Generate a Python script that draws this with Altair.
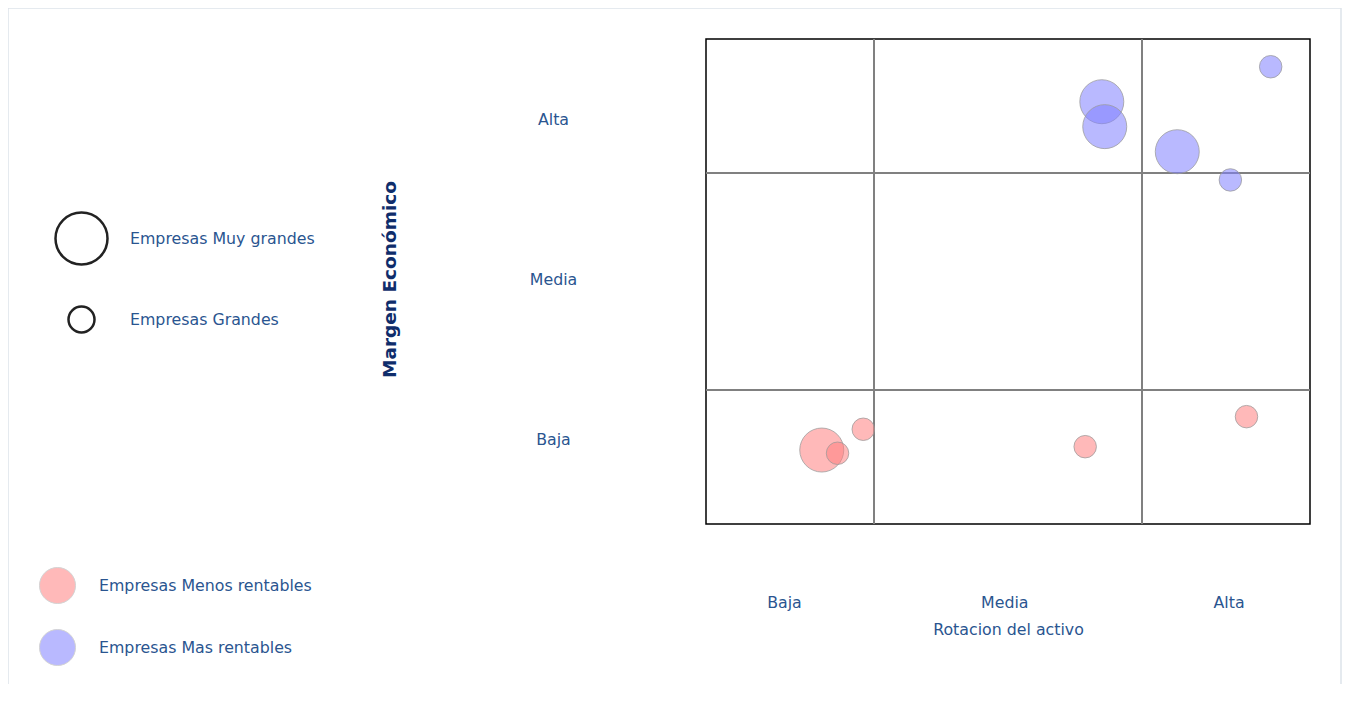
import altair as alt
import pandas as pd

# ---- data ----
# position in "cell units": 0-1 = Baja, 1-2 = Media, 2-3 = Alta
rot_x = [2.766, 1.850, 1.861, 2.210, 2.526, 0.689, 0.783, 0.936, 1.788, 2.622]
marg_y = [2.793, 2.532, 2.346, 2.159, 1.968, 0.552, 0.528, 0.707, 0.577, 0.801]
grupo = ["Empresas Mas rentables"] * 5 + ["Empresas Menos rentables"] * 5
tamano = ["Empresas Grandes", "Empresas Muy grandes", "Empresas Muy grandes",
          "Empresas Muy grandes", "Empresas Grandes",
          "Empresas Muy grandes", "Empresas Grandes", "Empresas Grandes",
          "Empresas Grandes", "Empresas Grandes"]

grupo_dom = ["Empresas Menos rentables", "Empresas Mas rentables"]
grupo_col = ["#ff8080", "#8080ff"]
tamano_dom = ["Empresas Muy grandes", "Empresas Grandes"]

x_bounds = [1, 2]
y_bounds = [1, 2]
x_tick_vals = [0.464, 1.486, 2.515]
x_tick_labels = ["Baja", "Media", "Alta"]
y_tick_vals = [0.634, 1.507, 2.396]
y_tick_labels = ["Baja", "Media", "Alta"]

df = pd.DataFrame({"x": rot_x, "y": marg_y, "grupo": grupo, "tamano": tamano})
dfx = pd.DataFrame({"v": x_bounds})
dfy = pd.DataFrame({"v": y_bounds})

FONT = "DejaVu Sans"
TXT = "#2a5590"
FS = 15.8

xscale = alt.Scale(domain=[0, 1, 2, 3], range=[0, 168, 436, 604], nice=False, zero=False)
yscale = alt.Scale(domain=[0, 1, 2, 3], range=[485, 351, 134, 0], nice=False, zero=False)

x_lab_expr = str(x_tick_labels) + "[round(datum.index*2)]"
y_lab_expr = str(y_tick_labels) + "[round(datum.index*2)]"

xenc = alt.X("x:Q", scale=xscale,
             axis=alt.Axis(values=x_tick_vals, labelExpr=x_lab_expr, ticks=False, tickSize=0,
                           domain=False, grid=False, labelPadding=78, labelBaseline="middle",
                           labelFont=FONT, labelFontSize=FS, labelColor=TXT,
                           title="Rotacion del activo", titleFont=FONT, titleFontSize=FS,
                           titleFontWeight="normal", titleColor=TXT, titleY=105,
                           titleBaseline="middle"))
yenc = alt.Y("y:Q", scale=yscale,
             axis=alt.Axis(values=y_tick_vals, labelExpr=y_lab_expr, ticks=False, tickSize=0,
                           domain=False, grid=False, labelPadding=153, labelAlign="center",
                           labelBaseline="middle",
                           labelFont=FONT, labelFontSize=FS, labelColor=TXT,
                           title="Margen Económico", titleFont=FONT, titleFontSize=18.5,
                           titleFontWeight="bold", titleColor="#0f2d6b", titleX=-317,
                           titleY=240, titleAngle=270, titleBaseline="middle",
                           titleAlign="center"))

frame = alt.Chart(pd.DataFrame({"a": [0]})).mark_rect(
    fill=None, stroke="#dde3ea", strokeWidth=1.5, clip=False
).encode(x=alt.value(-698), x2=alt.value(635), y=alt.value(-31), y2=alt.value(700))

vrules = alt.Chart(dfx).mark_rule(color="#808080", strokeWidth=2).encode(
    x=alt.X("v:Q", scale=xscale))
hrules = alt.Chart(dfy).mark_rule(color="#808080", strokeWidth=2).encode(
    y=alt.Y("v:Q", scale=yscale))

bubbles = alt.Chart(df).mark_circle(
    fillOpacity=0.55, stroke="#9a9a9a", strokeWidth=1, strokeOpacity=0.75
).encode(
    x=xenc, y=yenc,
    color=alt.Color("grupo:N", scale=alt.Scale(domain=grupo_dom, range=grupo_col),
                    legend=alt.Legend(title=None, orient="none", legendX=-667, legendY=528,
                                      padding=0, rowPadding=21, labelOffset=23,
                                      labelLimit=400,
                                      symbolType="circle", symbolSize=1296,
                                      symbolStrokeColor="#b0b0b0", symbolStrokeWidth=1,
                                      symbolOpacity=0.55,
                                      labelFont=FONT, labelFontSize=FS, labelColor=TXT)),
    size=alt.Size("tamano:O", scale=alt.Scale(domain=tamano_dom, range=[1936, 506]),
                  legend=None),
)

size_key = alt.Chart(df).transform_filter("false").mark_point(
    filled=False, color="#222222", strokeWidth=2.5, opacity=1
).encode(
    x=alt.X("x:Q", scale=xscale),
    y=alt.Y("y:Q", scale=yscale),
    size=alt.Size("tamano:O", scale=alt.Scale(domain=tamano_dom, range=[2704, 676]),
                  legend=alt.Legend(title=None, orient="none", legendX=-652, legendY=172,
                                    padding=0, rowPadding=31, labelOffset=21,
                                    labelLimit=400,
                                    symbolType="circle", symbolStrokeColor="#222222",
                                    symbolStrokeWidth=2.5, symbolFillColor="transparent",
                                    labelFont=FONT, labelFontSize=FS, labelColor=TXT)),
)

chart = alt.layer(frame, vrules, hrules, bubbles, size_key).resolve_scale(
    size="independent"
).properties(
    width=604, height=485,
    autosize=alt.AutoSizeParams(type="none"),
    padding={"left": 698, "top": 31, "right": 32, "bottom": 160},
).configure(background="white").configure_view(stroke="black", strokeWidth=1.5)

chart.save("out.html", embed_options={"renderer": "svg", "actions": False})
